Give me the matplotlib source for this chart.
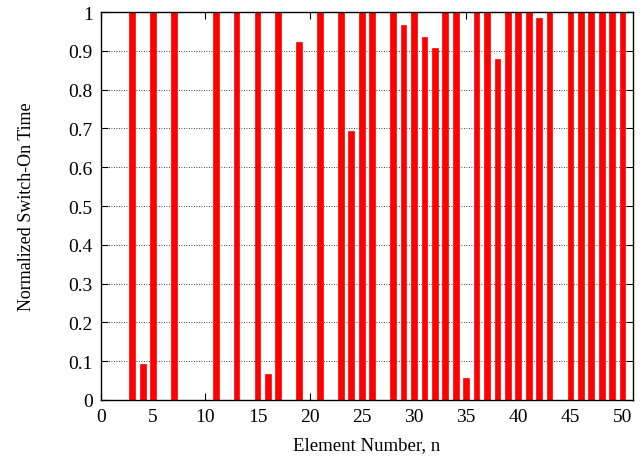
import numpy as np
import matplotlib
matplotlib.use("Agg")
import matplotlib.pyplot as plt

plt.rcParams['font.family'] = ['Liberation Serif', 'DejaVu Serif']

# element numbers and normalized switch-on times
elements = list(range(1, 51))
on_time = [
    0.0, 0.0, 1.0, 0.092, 1.0, 0.0, 1.0, 0.0, 0.0, 0.0,      # 1-10
    1.0, 0.0, 1.0, 0.0, 1.0, 0.068, 1.0, 0.0, 0.923, 0.0,    # 11-20
    1.0, 0.0, 1.0, 0.693, 1.0, 1.0, 0.0, 1.0, 0.966, 1.0,    # 21-30
    0.935, 0.906, 1.0, 1.0, 0.056, 1.0, 1.0, 0.879, 1.0, 1.0,  # 31-40
    1.0, 0.984, 1.0, 0.0, 1.0, 1.0, 1.0, 1.0, 1.0, 1.0,      # 41-50
]
x_ticks = list(range(0, 51, 5))
y_ticks = [0, 0.1, 0.2, 0.3, 0.4, 0.5, 0.6, 0.7, 0.8, 0.9, 1]
y_tick_labels = ["0", "0.1", "0.2", "0.3", "0.4", "0.5", "0.6", "0.7", "0.8", "0.9", "1"]

fig = plt.figure(figsize=(6.4, 4.64), dpi=100)
ax = fig.add_axes([101 / 640, 1 - 401 / 464, 532 / 640, 388 / 464])

ax.bar(elements, on_time, width=0.55, color="#ff0000",
       edgecolor="#ff0000", linewidth=0.5, zorder=3)

ax.set_xlim(0, 51)
ax.set_ylim(0, 1)
ax.set_xticks(x_ticks)
ax.set_yticks(y_ticks)
ax.set_yticklabels(y_tick_labels)

# gnuplot-like look: inward ticks on all sides, dotted horizontal grid
ax.tick_params(direction="in", top=True, right=True, length=5, width=0.8,
               labelsize=14, pad=6)
ax.yaxis.grid(True, linestyle=(0, (1, 2)), color="black", linewidth=0.6, zorder=1)
for s in ax.spines.values():
    s.set_linewidth(1.0)
    s.set_zorder(4)

ax.set_xlabel("Element Number, n", fontsize=13.5, labelpad=8)
ax.set_ylabel("Normalized Switch-On Time", fontsize=13, labelpad=24)

fig.savefig("out.png", dpi=100)
